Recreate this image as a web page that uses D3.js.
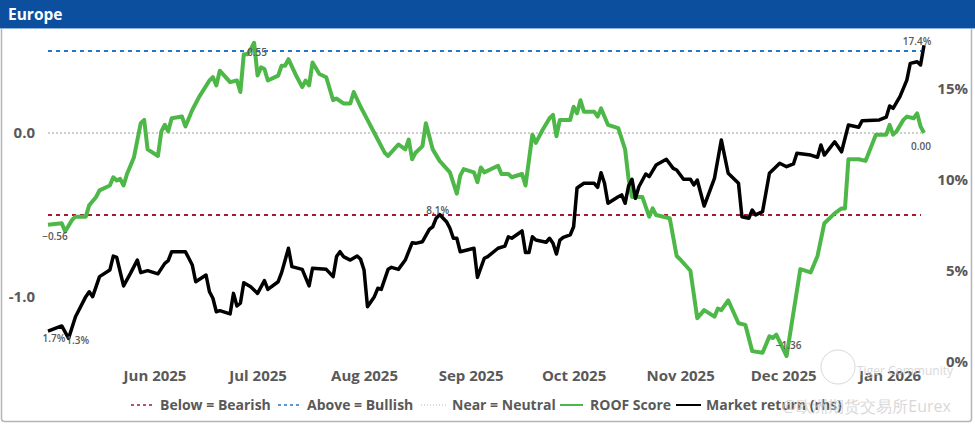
<!DOCTYPE html>
<html>
<head>
<meta charset="utf-8">
<script src="https://cdn.jsdelivr.net/npm/d3@7"></script>
<style>
  body { margin: 0; background: #fff; }
  svg text { font-family: "Open Sans", "Noto Sans", sans-serif; }
</style>
</head>
<body>
<svg id="chart"></svg>
<script>
// days since 1 May 2025
const startDate = new Date(2025, 4, 1);

const roofDay = [
  0,4,5,7,8,11,12,14,15,18,
  19,20,21,22,23,25,27,28,29,32,
  33,34,35,36,39,40,42,44,47,48,
  49,50,53,55,56,57,58,59,60,61,
  62,63,64,67,68,69,70,72,74,75,
  76,77,79,81,82,83,84,86,88,89,
  91,93,95,98,99,102,104,105,106,107,
  109,110,112,114,117,119,120,121,124,125,
  126,127,131,132,134,135,138,139,141,142,
  144,146,147,148,149,152,153,154,155,156,
  159,160,161,163,166,168,169,170,173,175,
  176,177,181,183,184,187,189,191,194,195,
  196,198,201,203,205,208,210,211,212,215,
  219,222,224,226,229,231,232,233,236,238,
  241,244,245,246,247,249,250,252,253,254,
  255
];
const roofScore = [
  -0.56,-0.55,-0.60,-0.53,-0.51,-0.51,-0.44,-0.39,-0.35,-0.32,
  -0.27,-0.29,-0.28,-0.32,-0.25,-0.15,0.06,0.08,-0.10,-0.14,
  0.01,0.05,0.01,0.09,0.10,0.04,0.14,0.22,0.32,0.34,
  0.29,0.38,0.31,0.32,0.25,0.48,0.48,0.51,0.55,0.35,
  0.40,0.39,0.32,0.35,0.41,0.41,0.45,0.36,0.28,0.32,
  0.29,0.43,0.36,0.34,0.27,0.20,0.21,0.18,0.18,0.25,
  0.16,0.08,0.00,-0.12,-0.14,-0.07,-0.10,-0.04,-0.16,-0.12,
  -0.08,0.06,-0.10,-0.17,-0.24,-0.37,-0.26,-0.22,-0.24,-0.30,
  -0.21,-0.24,-0.20,-0.25,-0.25,-0.27,-0.25,-0.32,-0.01,-0.06,
  0.02,0.09,0.11,-0.02,0.08,0.08,0.16,0.12,0.20,0.13,
  0.13,0.10,0.15,0.05,0.03,-0.10,-0.28,-0.39,-0.39,-0.51,
  -0.46,-0.50,-0.52,-0.75,-0.77,-0.84,-1.13,-1.08,-1.12,-1.07,
  -1.08,-1.02,-1.16,-1.17,-1.33,-1.34,-1.24,-1.25,-1.23,-1.36,
  -0.83,-0.85,-0.75,-0.55,-0.49,-0.46,-0.46,-0.16,-0.16,-0.17,
  -0.01,-0.01,0.05,-0.01,0.01,0.08,0.10,0.09,0.12,0.04,
  0.00
];

const retDay = [
  0,4,6,8,11,12,13,15,18,19,
  20,22,24,26,27,29,32,34,35,36,
  40,41,42,43,46,47,48,49,50,53,
  54,55,56,57,59,61,63,64,67,68,
  70,71,74,76,77,81,83,84,85,86,
  88,90,91,92,93,95,96,97,99,100,
  102,104,106,107,109,111,112,113,114,116,
  117,118,119,120,124,125,127,128,131,133,
  134,135,138,139,140,141,142,145,146,147,
  148,149,150,152,153,154,156,159,160,161,
  162,163,166,167,168,169,170,171,172,174,
  175,177,180,182,183,185,187,188,189,191,
  194,196,198,201,202,204,205,206,208,210,
  213,215,217,218,222,224,225,226,229,231,
  233,236,237,242,244,245,246,248,250,251,
  253,254,255
];
const retPct = [
  1.7,1.98,1.3,2.49,3.59,3.86,3.59,4.69,5.05,5.82,
  5.75,4.18,4.87,5.60,4.91,5.02,4.84,5.42,5.57,6.06,
  6.06,5.70,5.33,4.41,4.78,3.86,3.50,2.76,2.82,2.64,
  3.77,3.08,3.23,4.36,4.14,3.77,4.47,3.99,4.41,4.91,
  6.25,5.24,5.09,4.18,5.15,5.09,4.69,5.79,6.06,5.79,
  5.60,5.82,5.64,5.05,3.04,3.59,4.05,3.99,5.09,5.20,
  5.09,5.60,6.55,6.52,6.61,7.29,7.43,7.90,8.1,7.71,
  7.35,6.80,6.80,6.06,6.25,4.65,5.70,5.79,6.25,6.37,
  6.88,6.80,7.20,6.01,6.01,6.88,6.70,6.58,6.80,6.52,
  5.93,6.70,6.85,6.98,7.43,9.56,9.82,9.82,9.60,10.40,
  9.82,8.72,9.08,9.18,8.72,9.67,10.04,8.99,9.63,10.33,
  10.18,10.82,11.14,10.64,10.55,10.04,10.04,9.73,10.00,8.57,
  10.09,12.20,10.37,9.82,7.98,7.90,8.35,8.08,8.26,10.37,
  10.92,10.73,10.88,11.47,11.37,11.25,11.92,11.37,12.10,11.55,
  13.02,12.90,13.26,13.30,13.45,14.07,13.94,14.58,15.49,16.41,
  16.50,16.32,17.4
];

const thresholds = [
  { name: 'Below = Bearish', value: -0.5, color: '#a8192e', dash: '4,4' },
  { name: 'Above = Bullish', value: 0.5, color: '#1f77c9', dash: '4,4' },
  { name: 'Near = Neutral', value: 0.0, color: '#bfbfbf', dash: '2,2' }
];
const leftTicks = [0, -1];
const rightTicks = [0, 5, 10, 15];
const monthTicks = ['2025-06-01','2025-07-01','2025-08-01','2025-09-01','2025-10-01','2025-11-01','2025-12-01','2026-01-01'];

const width = 975;
const height = 424;
const textColor = '#595959';

const svg = d3.select('#chart').attr('width', width).attr('height', height);

const toDate = d => d3.timeDay.offset(startDate, d);
const roof = roofDay.map((d, i) => ({ date: toDate(d), value: roofScore[i] }));
const ret = retDay.map((d, i) => ({ date: toDate(d), value: retPct[i] }));

// frame + title
svg.append('rect')
  .attr('x', 1.5).attr('y', 1.5).attr('width', width - 5).attr('height', height - 4)
  .attr('rx', 3).attr('fill', '#fff').attr('stroke', '#b4b4b4').attr('stroke-width', 1.5);
svg.append('rect')
  .attr('x', 0).attr('y', 0).attr('width', width).attr('height', 28)
  .attr('fill', '#0b4f9e');
svg.append('line')
  .attr('x1', 0).attr('x2', width).attr('y1', 28.5).attr('y2', 28.5)
  .attr('stroke', '#8fb4de').attr('stroke-width', 1);
svg.append('text')
  .attr('x', 8).attr('y', 20)
  .attr('fill', '#fff').attr('font-size', 15.5).attr('font-weight', 700)
  .text('Europe');

const x = d3.scaleTime()
  .domain([startDate, toDate(255)])
  .range([48, 924]);

const yL = d3.scaleLinear().domain([-1, 0]).range([297, 133]);
const yR = d3.scaleLinear().domain([0, 15]).range([362, 89]);

// threshold lines
svg.append('g').selectAll('line')
  .data(thresholds)
  .join('line')
  .attr('x1', x.range()[0]).attr('x2', x.range()[1] - 3)
  .attr('y1', d => yL(d.value)).attr('y2', d => yL(d.value))
  .attr('stroke', d => d.color)
  .attr('stroke-width', d => d.value === 0 ? 1.5 : 2)
  .attr('stroke-dasharray', d => d.dash);

// axes
const axisStyle = g => {
  g.select('.domain').remove();
  g.selectAll('.tick line').remove();
  g.selectAll('text')
    .attr('fill', textColor)
    .attr('font-size', 15)
    .attr('font-weight', 700);
};

svg.append('g')
  .attr('transform', 'translate(35,0)')
  .call(d3.axisLeft(yL).tickValues(leftTicks).tickSize(0).tickPadding(0)
    .tickFormat(d => d.toFixed(1)))
  .call(axisStyle);

svg.append('g')
  .attr('transform', 'translate(968,0)')
  .call(d3.axisLeft(yR).tickValues(rightTicks).tickSize(0).tickPadding(0)
    .tickFormat(d => d + '%'))
  .call(axisStyle);

svg.append('g')
  .attr('transform', 'translate(0,370)')
  .call(d3.axisBottom(x).tickValues(monthTicks.map(d => d3.timeParse('%Y-%m-%d')(d)))
    .tickSize(0).tickPadding(0).tickFormat(d3.timeFormat('%b %Y')))
  .call(axisStyle);

// series
svg.append('path')
  .datum(roof)
  .attr('fill', 'none')
  .attr('stroke', '#4db848')
  .attr('stroke-width', 4)
  .attr('stroke-linejoin', 'round')
  .attr('d', d3.line().x(d => x(d.date)).y(d => yL(d.value)));

svg.append('path')
  .datum(ret)
  .attr('fill', 'none')
  .attr('stroke', '#000')
  .attr('stroke-width', 3.5)
  .attr('stroke-linejoin', 'round')
  .attr('d', d3.line().x(d => x(d.date)).y(d => yR(d.value)));

// point labels
const labels = svg.append('g')
  .attr('fill', textColor).attr('font-size', 10).attr('font-weight', 600)
  .attr('text-anchor', 'middle');

function note(p, y, text, dx, dy) {
  labels.append('text')
    .attr('x', x(p.date) + dx).attr('y', y(p.value) + dy)
    .text(text);
}
const f2 = d3.format('.2f');
const pct = v => d3.format('.1f')(v) + '%';
const roofMin = roof[d3.minIndex(roof, d => d.value)];
const roofMax = roof[d3.maxIndex(roof, d => d.value)];
const retMin = ret[d3.minIndex(ret, d => d.value)];
const retPeak = ret[d3.maxIndex(ret.slice(0, 80), d => d.value)];

note(roof[0], yL, f2(roof[0].value), 7, 15);
note(roofMax, yL, f2(roofMax.value), 3, 13);
note(roofMin, yL, f2(roofMin.value), 2, -7);
note(roof[roof.length - 1], yL, f2(roof[roof.length - 1].value), -3, 17);
note(ret[0], yR, pct(ret[0].value), 6, 11);
note(retMin, yR, pct(retMin.value), 9, 6);
note(retPeak, yR, pct(retPeak.value), -2, -1);
note(ret[ret.length - 1], yR, pct(ret[ret.length - 1].value), -7, 0);

// legend
const legendItems = [
  { name: thresholds[0].name, color: thresholds[0].color, dash: '3,3', w: 1.5, x1: 131, x2: 153, tx: 160 },
  { name: thresholds[1].name, color: thresholds[1].color, dash: '3,3', w: 1.5, x1: 278, x2: 302, tx: 307 },
  { name: thresholds[2].name, color: '#d0d0d0', dash: '1,2', w: 1.5, x1: 421, x2: 446, tx: 452 },
  { name: 'ROOF Score', color: '#4db848', dash: null, w: 2, x1: 560, x2: 583, tx: 590 },
  { name: 'Market return (rhs)', color: '#000', dash: null, w: 2, x1: 676, x2: 701, tx: 706 }
];
const legend = svg.append('g');
legend.selectAll('line')
  .data(legendItems)
  .join('line')
  .attr('x1', d => d.x1).attr('x2', d => d.x2)
  .attr('y1', 405).attr('y2', 405)
  .attr('stroke', d => d.color).attr('stroke-width', d => d.w)
  .attr('stroke-dasharray', d => d.dash);
legend.selectAll('text')
  .data(legendItems)
  .join('text')
  .attr('x', d => d.tx).attr('y', 410)
  .attr('fill', textColor).attr('font-size', 14).attr('font-weight', 700)
  .text(d => d.name);

// watermark (overlaps the legend and last tick, as in the source)
const wm = svg.append('g').attr('fill', '#cfcfcf').attr('opacity', 0.8);
wm.append('circle').attr('cx', 838).attr('cy', 367).attr('r', 17)
  .attr('fill', 'none').attr('stroke', '#cfcfcf').attr('stroke-width', 1);
wm.append('text').attr('x', 857).attr('y', 375).attr('font-size', 12).text('Tiger Community');
wm.append('text').attr('x', 782).attr('y', 412).attr('font-size', 16)
  .attr('font-family', '"Noto Sans CJK SC", sans-serif').text('@欧洲期货交易所Eurex');
</script>
</body>
</html>
